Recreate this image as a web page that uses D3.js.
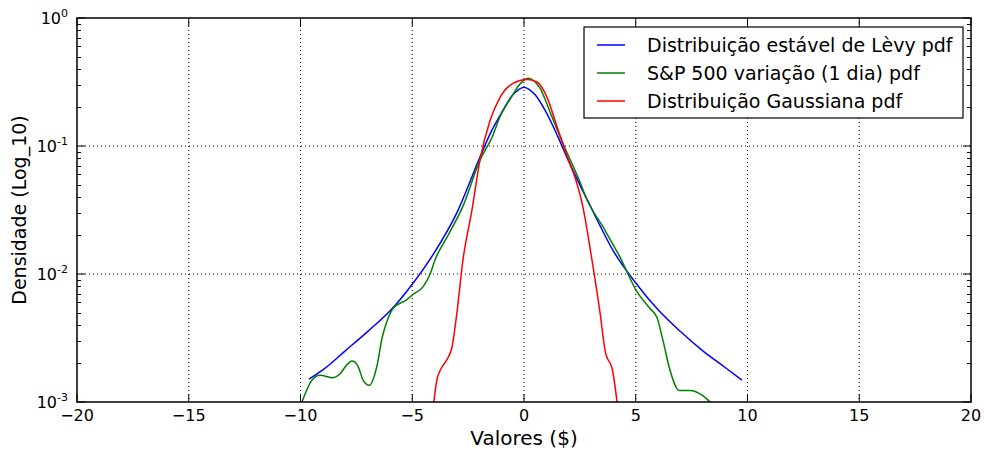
<!DOCTYPE html>
<html>
<head>
<meta charset="utf-8">
<script src="https://cdn.jsdelivr.net/npm/d3@7"></script>
<style>
  body { margin: 0; background: #fff; }
  svg { font-family: "DejaVu Sans", sans-serif; }
</style>
</head>
<body>
<div id="chart"></div>
<script>
// values
const levyX = [-9.62, -9, -8, -7, -6, -5, -4, -3, -2, -1.5, -1, -0.5, -0.25, 0, 0.25, 0.5, 1, 1.5, 2, 3, 4, 5, 6, 7, 8, 9, 9.75];
const levyY = [0.00151, 0.00178, 0.00251, 0.00355, 0.00513, 0.00832, 0.0148, 0.0302, 0.0794, 0.126, 0.182, 0.251, 0.275, 0.288, 0.275, 0.251, 0.182, 0.120, 0.0759, 0.0331, 0.0151, 0.00851, 0.00525, 0.00355, 0.00251, 0.00186, 0.00148];

const spX = [-9.98, -9.49, -9.13, -8.55, -8.23, -7.93, -7.7, -7.43, -7.2, -6.93, -6.58, -6.35, -6.13, -5.86, -5.24, -4.97, -4.52, -4.2, -3.98, -3.4, -2.73, -1.97, -1.43, -1.07, -0.5, -0.2, 0.18, 0.5, 0.72, 1.2, 1.74, 2.5, 2.82, 3.53, 4.3, 5.06, 5.64, 5.95, 6.22, 6.53, 6.94, 7.43, 8.0, 8.45];
const spY = [0.00095, 0.00148, 0.00162, 0.00155, 0.00166, 0.00195, 0.00209, 0.00191, 0.00148, 0.00135, 0.00191, 0.00316, 0.00427, 0.00537, 0.00631, 0.00692, 0.00794, 0.01, 0.0129, 0.02, 0.0339, 0.0776, 0.117, 0.170, 0.251, 0.302, 0.339, 0.316, 0.282, 0.178, 0.105, 0.0525, 0.038, 0.0234, 0.0135, 0.00724, 0.00537, 0.00457, 0.00302, 0.00178, 0.00123, 0.00123, 0.00112, 0.00095];

const gaussX = [-4.05, -3.9, -3.68, -3.45, -3.22, -3.0, -2.73, -2.33, -1.97, -1.52, -1.07, -0.49, 0.13, 0.58, 1.03, 1.48, 1.83, 2.64, 3.04, 3.4, 3.62, 3.98, 4.18];
const gaussY = [0.00095, 0.00148, 0.00186, 0.00214, 0.00269, 0.00501, 0.0129, 0.0316, 0.0776, 0.158, 0.240, 0.309, 0.331, 0.316, 0.240, 0.141, 0.0933, 0.0331, 0.0129, 0.00501, 0.00257, 0.0017, 0.00095];

const xTicks = [-20, -15, -10, -5, 0, 5, 10, 15, 20];
const yTicks = [1e-3, 1e-2, 1e-1, 1];
const yExponents = ['-3', '-2', '-1', '0'];

const seriesNames = ['Distribuição estável de Lèvy pdf', 'S&P 500 variação (1 dia) pdf', 'Distribuição Gaussiana pdf'];
const seriesColors = ['#0000ff', '#008000', '#ff0000'];

const width = 984, height = 452;
const margin = { top: 18, right: 13, bottom: 50, left: 77 };
const innerW = width - margin.left - margin.right;
const innerH = height - margin.top - margin.bottom;

const svg = d3.select('#chart').append('svg')
  .attr('width', width)
  .attr('height', height);

const g = svg.append('g')
  .attr('transform', `translate(${margin.left},${margin.top})`);

const x = d3.scaleLinear().domain([-20, 20]).range([0, innerW]);
const y = d3.scaleLog().domain([1e-3, 1]).range([innerH, 0]);

// grid
g.append('g').selectAll('line').data(xTicks.slice(1, -1)).join('line')
  .attr('x1', d => x(d)).attr('x2', d => x(d))
  .attr('y1', 0).attr('y2', innerH)
  .attr('stroke', '#000').attr('stroke-width', 1)
  .attr('stroke-dasharray', '1,3');

g.append('g').selectAll('line').data(yTicks.slice(1, -1)).join('line')
  .attr('x1', 0).attr('x2', innerW)
  .attr('y1', d => y(d)).attr('y2', d => y(d))
  .attr('stroke', '#000').attr('stroke-width', 1)
  .attr('stroke-dasharray', '1,3');

// minor ticks on the log axis
const minor = [];
for (let e = -3; e < 0; e++) {
  for (let m = 2; m <= 9; m++) minor.push(m * Math.pow(10, e));
}
[0, innerW].forEach((px, i) => {
  const dir = i === 0 ? 1 : -1;
  g.append('g').selectAll('line').data(minor).join('line')
    .attr('x1', px).attr('x2', px + dir * 4)
    .attr('y1', d => Math.round(y(d)) + 0.5).attr('y2', d => Math.round(y(d)) + 0.5)
    .attr('stroke', '#000');
  g.append('g').selectAll('line').data(yTicks).join('line')
    .attr('x1', px).attr('x2', px + dir * 8)
    .attr('y1', d => y(d)).attr('y2', d => y(d))
    .attr('stroke', '#000');
});
[0, innerH].forEach((py, i) => {
  const dir = i === 0 ? 1 : -1;
  g.append('g').selectAll('line').data(xTicks).join('line')
    .attr('x1', d => x(d)).attr('x2', d => x(d))
    .attr('y1', py).attr('y2', py + dir * 8)
    .attr('stroke', '#000');
});

// curves
g.append('clipPath').attr('id', 'clip')
  .append('rect').attr('width', innerW).attr('height', innerH);

const line = d3.line()
  .x(d => x(d[0]))
  .y(d => y(d[1]))
  .curve(d3.curveMonotoneX);

const series = [
  d3.zip(levyX, levyY),
  d3.zip(spX, spY),
  d3.zip(gaussX, gaussY)
];

g.append('g').attr('clip-path', 'url(#clip)')
  .selectAll('path').data(series).join('path')
  .attr('d', line)
  .attr('fill', 'none')
  .attr('stroke', (d, i) => seriesColors[i])
  .attr('stroke-width', 1.5);

// frame
g.append('rect')
  .attr('width', innerW).attr('height', innerH)
  .attr('fill', 'none').attr('stroke', '#000').attr('stroke-width', 1.5);

// tick labels
g.append('g').selectAll('text').data(xTicks).join('text')
  .attr('x', d => x(d))
  .attr('y', innerH + 19)
  .attr('text-anchor', 'middle')
  .attr('font-size', 16)
  .text(d => d < 0 ? '\u2212' + Math.abs(d) : d);

const yl = g.append('g').selectAll('text').data(yTicks).join('text')
  .attr('x', -9)
  .attr('y', d => y(d) + 6)
  .attr('text-anchor', 'end')
  .attr('font-size', 16);
yl.append('tspan').text('10');
yl.append('tspan').attr('dy', -7).attr('font-size', 11).text((d, i) => yExponents[i]);

// axis titles
svg.append('text')
  .attr('x', margin.left + innerW / 2)
  .attr('y', 445)
  .attr('text-anchor', 'middle')
  .attr('font-size', 20)
  .text('Valores ($)');

svg.append('text')
  .attr('transform', `translate(26,${margin.top + innerH / 2}) rotate(-90)`)
  .attr('text-anchor', 'middle')
  .attr('font-size', 19)
  .text('Densidade (Log_10)');

// legend
const legend = svg.append('g').attr('transform', 'translate(584,27)');
legend.append('rect')
  .attr('width', 379).attr('height', 91)
  .attr('fill', '#fff').attr('stroke', '#000').attr('stroke-width', 1.2);
const rows = legend.selectAll('g.row').data(seriesNames).join('g')
  .attr('class', 'row')
  .attr('transform', (d, i) => `translate(0,${18 + i * 28})`);
rows.append('line')
  .attr('x1', 13).attr('x2', 41)
  .attr('stroke', (d, i) => seriesColors[i]).attr('stroke-width', 1.5);
rows.append('text')
  .attr('x', 63).attr('y', 7)
  .attr('font-size', 19)
  .text(d => d);
</script>
</body>
</html>
